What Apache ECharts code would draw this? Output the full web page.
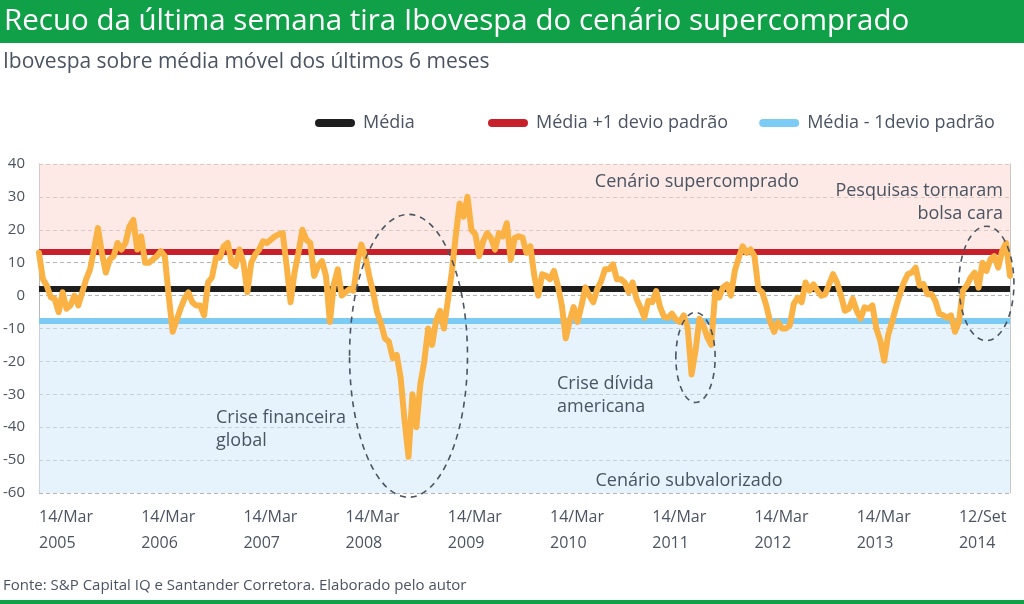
<!DOCTYPE html>
<html><head><meta charset="utf-8">
<script src="https://cdn.jsdelivr.net/npm/echarts@6/dist/echarts.min.js"></script>
<style>html,body{margin:0;padding:0;background:#fff}#c{width:1024px;height:604px}</style>
</head><body><div id="c"></div>
<script>
// Ibovespa over its 6-month moving average (%), biweekly samples from 14/Mar/2005 to 12/Set/2014
const ibovValues = [
13,5,3,-0.5,-1,-5,1,-4,-3,0,-3,1,5,8,14,20.5,13,7,11,12,
16,14,16,21,23,14,18,10,10,11,12,13.5,12,0,-11,-7.5,-4,-1,1,-2,
-3,-3,-6,4,5.5,11.5,11.5,15,16,10,9,14,10,1,10,12.5,14,16.5,16,17,
18,18.6,19,9,-2,7,13,20,17,16,6,9,10.5,6,-8,3.4,8,0,1,2,
1.5,10,15.5,12,6,1,-5,-8.5,-13,-14,-19,-18,-25,-38,-49,-30,-40,-27,-20,-10,
-15,-7.7,-4.6,-10,-1.6,7,18,28,24,30,20,18.6,12,16.6,19,17.5,14,19,18,22,
11,17.5,18,17.6,13,15,6,0,6.5,6,5,7.5,3,-3,-13,-7.7,-3.5,-8,-3,2.5,
0,-2,2,4.4,8,8,9.5,5,5,4,1,4,-1,-3.6,-6.7,-1.6,-2,1.4,-3.5,-6.5,
-6.7,-5.5,-7.2,-8,-6,-9.7,-24,-16.8,-7,-9,-12.7,-15,1,-0.6,2.5,3.4,0,7.5,11.5,15,
13,14,12,2,1,-3,-8,-11,-8,-10,-10,-9,-2.5,-0.6,-2,4,1.5,3.4,1.5,0,
0.4,3.5,6.5,4,0,-4.6,-4,-1,-4.6,-7,-3.6,-4,-3,-10,-13.7,-19.8,-12,-8,-3.5,0.4,
4,6.5,7,8.5,3,3.5,0.4,0.5,-1.6,-5.5,-6,-6.7,-6,-11,-8,1.5,3,5.5,7,2.4,
10,7.5,11,12,8.5,13.5,16,6
];
const mediaValue = 2.0;
const upperValue = 13.4;   // média +1 desvio padrão
const lowerValue = -7.5;   // média -1 desvio padrão
const yMin = -60, yMax = 40, yStep = 10;
const tickLabels = ['14/Mar\n2005','14/Mar\n2006','14/Mar\n2007','14/Mar\n2008','14/Mar\n2009',
  '14/Mar\n2010','14/Mar\n2011','14/Mar\n2012','14/Mar\n2013','12/Set\n2014'];
const pointsPerYear = 26;
const seriesNames = ['Média','Média +1 devio padrão','Média - 1devio padrão'];

const startDate = new Date(2005, 2, 14);
const categories = ibovValues.map((_, i) => {
  const d = new Date(startDate.getTime() + i * 14 * 86400000);
  return d.toISOString().slice(0, 10);
});

const FONT = 'Open Sans';
const TXT = '#4a5462';
const chart = echarts.init(document.getElementById('c'), null, {renderer: 'canvas'});

const legendIcon = 'path://M4,0 H36 A4,4 0 0 1 36,8 H4 A4,4 0 0 1 4,0 Z';

function refLine(name, color, value) {
  return {
    name, type: 'line', data: [], color, z: 3, silent: true,
    markLine: {
      symbol: ['none', 'none'], silent: true, label: {show: false},
      lineStyle: {color, width: 6, type: 'solid'},
      data: [{yAxis: value}]
    }
  };
}

chart.setOption({
  animation: false,
  textStyle: {fontFamily: FONT},
  grid: {left: 36, right: 14, top: 164, bottom: 111},
  legend: [
    {data: [seriesNames[0]], left: 315, top: 114, padding: 0, itemWidth: 40, itemHeight: 9, icon: legendIcon,
     textStyle: {color: TXT, fontSize: 18, fontFamily: FONT, padding: [0, 0, 0, 3]}},
    {data: [seriesNames[1], seriesNames[2]], left: 488, top: 114, padding: 0, itemGap: 31, itemWidth: 40, itemHeight: 9, icon: legendIcon,
     textStyle: {color: TXT, fontSize: 18, fontFamily: FONT, padding: [0, 0, 0, 3]}}
  ],
  xAxis: {
    type: 'category', data: categories, boundaryGap: false,
    axisLine: {show: false}, axisTick: {show: false}, splitLine: {show: false},
    axisLabel: {
      interval: (i) => i % pointsPerYear === 0,
      formatter: (v, i) => tickLabels[Math.round(i / pointsPerYear)] || '',
      align: 'left', color: TXT, fontSize: 16, lineHeight: 26, margin: 11, fontFamily: FONT
    }
  },
  yAxis: [{
    type: 'value', min: yMin, max: yMax, interval: yStep,
    axisLine: {show: true, lineStyle: {color: '#b8b8b8', width: 1}},
    axisTick: {show: false},
    axisLabel: {color: TXT, fontSize: 15, margin: 14, fontFamily: FONT, padding: [14, 0, 0, 0]},
    splitLine: {show: true, lineStyle: {color: '#b4b4b4', width: 1, type: [4, 3]}}
  }, {
    type: 'value', min: yMin, max: yMax, interval: yStep, position: 'right',
    axisLine: {show: true, lineStyle: {color: '#c8c8c8', width: 1}},
    axisTick: {show: false}, axisLabel: {show: false}, splitLine: {show: false}
  }],
  series: [
    {
      name: 'bands', type: 'line', data: [], z: 1, silent: true,
      markArea: {
        silent: true,
        data: [
          [{yAxis: upperValue, itemStyle: {color: 'rgba(251,215,210,0.55)'}}, {yAxis: yMax}],
          [{yAxis: yMin, itemStyle: {color: 'rgba(210,233,250,0.55)'}}, {yAxis: lowerValue}]
        ]
      }
    },
    refLine(seriesNames[0], '#1e1e1e', mediaValue),
    refLine(seriesNames[1], '#c8202a', upperValue),
    refLine(seriesNames[2], '#7ccbf4', lowerValue),
    {
      name: 'Ibovespa', type: 'line', data: ibovValues, z: 5, showSymbol: false, silent: true,
      lineStyle: {color: '#fbb245', width: 6, join: 'round', cap: 'round'}, itemStyle: {color: '#fbb245'}
    }
  ]
});

function px(i, v) { return chart.convertToPixel({gridIndex: 0}, [i, v]); }
function ellipse(ci, cv, ri, rv) {
  const c = px(ci, cv), e = px(ci + ri, cv + rv);
  return {
    type: 'ellipse', z: 10, silent: true,
    shape: {cx: c[0], cy: c[1], rx: Math.abs(e[0] - c[0]), ry: Math.abs(c[1] - e[1])},
    style: {fill: 'none', stroke: '#4a5462', lineWidth: 1.6, lineDash: [6, 5]}
  };
}
function txt(x, y, text, align, size) {
  return {type: 'text', x, y, z: 10, silent: true,
    style: {text, fill: TXT, font: (size || 18) + 'px "' + FONT + '"', textAlign: align || 'left', textVerticalAlign: 'middle', lineHeight: 23}};
}

chart.setOption({
  graphic: [
    {type: 'rect', shape: {x: 0, y: 0, width: 1024, height: 43}, style: {fill: '#10a048'}, z: 1},
    {type: 'text', x: 4, y: 22, z: 2, style: {text: 'Recuo da última semana tira Ibovespa do cenário supercomprado', fill: '#fff', font: '29.5px "' + FONT + '"', textVerticalAlign: 'middle'}},
    {type: 'text', x: 3, y: 62, z: 2, style: {text: 'Ibovespa sobre média móvel dos últimos 6 meses', fill: TXT, font: '21px "' + FONT + '"', textVerticalAlign: 'middle'}},
    {type: 'text', x: 3, y: 586, z: 2, style: {text: 'Fonte: S&P Capital IQ e Santander Corretora. Elaborado pelo autor', fill: TXT, font: '15px "' + FONT + '"', textVerticalAlign: 'middle'}},
    {type: 'rect', shape: {x: 0, y: 600, width: 1024, height: 4}, style: {fill: '#10a048'}, z: 1},
    txt(697, 182, 'Cenário supercomprado', 'center'),
    txt(1003, 202, 'Pesquisas tornaram\nbolsa cara', 'right'),
    txt(216, 429, 'Crise financeira\nglobal', 'left'),
    txt(557, 395, 'Crise dívida\namericana', 'left'),
    txt(689, 481, 'Cenário subvalorizado', 'center'),
    ellipse(93.6, -18.3, 15.2, 43),
    ellipse(167.1, -18.8, 4.8, 13.7),
    ellipse(241.4, 3.7, 6.3, 17.4)
  ]
});
</script></body></html>
